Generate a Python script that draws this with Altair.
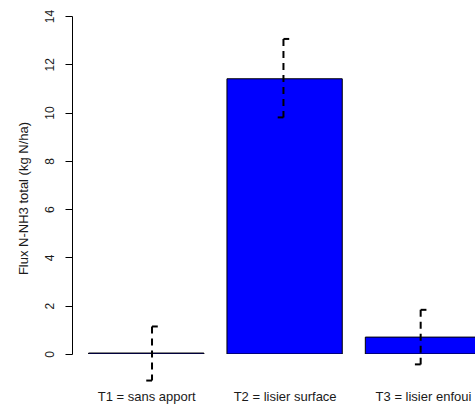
import altair as alt
import pandas as pd

# Ammonia flux per treatment (kg N/ha), with error-bar bounds
treatments = ["T1 = sans apport", "T2 = lisier surface", "T3 = lisier enfoui"]
flux = [0.04, 11.40, 0.70]
err_low = [-1.10, 9.80, -0.43]
err_high = [1.14, 13.05, 1.83]

# barplot-style positions: bar width 1, spacing 0.2
bar_left = [0.2, 1.4, 2.6]
bar_right = [1.2, 2.4, 3.6]
err_pos = [0.75, 1.89, 3.08]
cap = 0.05

y_ticks = [0, 2, 4, 6, 8, 10, 12, 14]

bar_mid = [(a + b) / 2 for a, b in zip(bar_left, bar_right)]

bars_df = pd.DataFrame({"treatment": treatments, "left": bar_left, "right": bar_right,
                        "flux": flux, "zero": [0.0] * 3})
err_df = pd.DataFrame({"x": err_pos, "lo": err_low, "hi": err_high,
                       "x_cap_r": [p + cap for p in err_pos],
                       "x_cap_l": [p - cap for p in err_pos]})

FONT = "Liberation Sans"
x_scale = alt.Scale(domain=[0.056, 0.056 + 403 / 115.3], nice=False, zero=False)
y_scale = alt.Scale(domain=[0, 14], nice=False, zero=False)

label_expr = " : ".join(
    f"abs(datum.value - {m}) < 0.01 ? '{t}'" for m, t in zip(bar_mid, treatments)
) + " : ''"

bars = alt.Chart(bars_df).mark_rect(
    color="#0000FF", stroke="black", strokeWidth=1, clip=True
).encode(
    x=alt.X("left:Q", scale=x_scale,
            axis=alt.Axis(values=bar_mid, labelExpr=label_expr, domain=False, ticks=False,
                          grid=False, title=None, labelPadding=36, labelFontSize=13,
                          labelFont=FONT, labelColor="#1a1a1a", labelOverlap=False,
                          labelFlush=False, labelBound=False, labelBaseline="top")),
    x2="right:Q",
    y=alt.Y("zero:Q", scale=y_scale,
            axis=alt.Axis(values=y_ticks, grid=False, title="Flux N-NH3 total (kg N/ha)",
                          titleFont=FONT, titleFontSize=13, titleFontWeight="normal",
                          titleColor="#1a1a1a", titleAngle=270, titleX=-45, titleY=182,
                          titleAlign="center", titleBaseline="alphabetic",
                          labelFont=FONT, labelFontSize=12, labelColor="#1a1a1a",
                          labelAngle=270, labelAlign="center", labelBaseline="alphabetic",
                          labelPadding=12, tickSize=7, tickColor="black",
                          domainColor="black", labelOverlap=False, labelFlush=False)),
    y2="flux:Q",
)

err_line = alt.Chart(err_df).mark_rule(
    color="black", strokeWidth=2, strokeDash=[7, 5]
).encode(x=alt.X("x:Q", scale=x_scale), y=alt.Y("hi:Q", scale=y_scale), y2="lo:Q")

cap_top = alt.Chart(err_df).mark_rule(color="black", strokeWidth=2).encode(
    x=alt.X("x:Q", scale=x_scale), x2="x_cap_r:Q", y=alt.Y("hi:Q", scale=y_scale))

cap_bot = alt.Chart(err_df).mark_rule(color="black", strokeWidth=2).encode(
    x=alt.X("x_cap_l:Q", scale=x_scale), x2="x:Q", y=alt.Y("lo:Q", scale=y_scale))

chart = alt.layer(bars, err_line, cap_top, cap_bot).properties(
    width=403, height=338,
    autosize=alt.AutoSizeParams(type="none"),
    padding={"left": 72, "top": 16, "right": 0, "bottom": 57},
    background="white",
).configure_view(stroke=None)

chart.save("out.html", embed_options={"renderer": "svg", "actions": False})
